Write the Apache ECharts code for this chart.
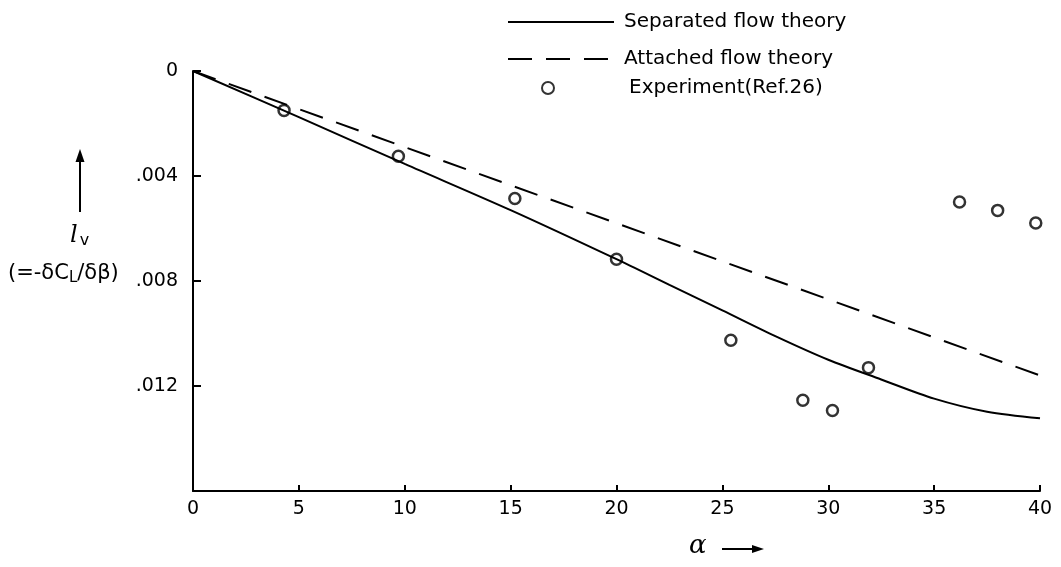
<!DOCTYPE html>
<html>
<head>
<meta charset="utf-8">
<script src="https://cdn.jsdelivr.net/npm/echarts@6/dist/echarts.min.js"></script>
<style>
html,body{margin:0;padding:0;background:#fff;}
#c{width:1061px;height:567px;}
</style>
</head>
<body>
<div id="c"></div>
<script>
// ---- data ----
const xTicks = [0, 5, 10, 15, 20, 25, 30, 35, 40];
const yTickLabels = { 0: '0', 0.004: '.004', 0.008: '.008', 0.012: '.012' };

const sepX = [0, 5, 10, 15, 20, 22.5, 25, 27.5, 30, 32.5, 35, 37.5, 40];
const sepY = [0, 0.00176, 0.00354, 0.00530, 0.00717, 0.00815, 0.00912, 0.01010, 0.01100, 0.01175, 0.01248, 0.01298, 0.01323];

const attX = [0, 10, 20, 30, 40];
const attY = [0, 0.0029, 0.0058, 0.0087, 0.0116];

const expX = [4.3, 9.7, 15.2, 20.0, 25.4, 28.8, 30.2, 31.9, 36.2, 38.0, 39.8];
const expY = [0.0015, 0.00325, 0.00486, 0.00717, 0.01026, 0.01254, 0.01293, 0.0113, 0.00499, 0.00531, 0.00579];

const names = ['Separated flow theory', 'Attached flow theory', 'Experiment(Ref.26)'];

const zip = (a, b) => a.map((v, i) => [v, b[i]]);
const FONT = 'DejaVu Sans';

const chart = echarts.init(document.getElementById('c'), null, { renderer: 'canvas' });
chart.setOption({
  animation: false,
  backgroundColor: '#fff',
  grid: { left: 193, right: 21, top: 71, bottom: 76, containLabel: false },
  xAxis: {
    type: 'value', min: 0, max: 40, interval: 5, position: 'bottom',
    axisLine: { show: true, onZero: false, lineStyle: { color: '#000', width: 2 } },
    axisTick: { show: true, inside: true, length: 6, lineStyle: { color: '#000', width: 2 } },
    axisLabel: { color: '#000', fontFamily: FONT, fontSize: 19, margin: 9 },
    splitLine: { show: false }
  },
  yAxis: {
    type: 'value', min: 0, max: 0.016, interval: 0.004, inverse: true,
    axisLine: { show: true, onZero: false, lineStyle: { color: '#000', width: 2 } },
    axisTick: { show: true, inside: true, length: 8, lineStyle: { color: '#000', width: 2 } },
    axisLabel: {
      color: '#000', fontFamily: FONT, fontSize: 19, margin: 15,
      formatter: v => { const k = Object.keys(yTickLabels).find(t => Math.abs(+t - v) < 1e-9); return k !== undefined ? yTickLabels[k] : ''; }
    },
    splitLine: { show: false }
  },
  legend: [
    { data: [names[0]], left: 507, top: 12, padding: 0, orient: 'vertical', itemWidth: 106, itemHeight: 16,
      itemStyle: { opacity: 0 },
      textStyle: { fontFamily: FONT, fontSize: 20, color: '#000', padding: [0, 0, 0, 5] } },
    { data: [names[1]], left: 507, top: 49, padding: 0, orient: 'vertical', itemWidth: 106, itemHeight: 16,
      itemStyle: { opacity: 0 },
      textStyle: { fontFamily: FONT, fontSize: 20, color: '#000', padding: [0, 0, 0, 5] } },
    { data: [names[2]], left: 541, top: 78, padding: 0, orient: 'vertical', itemWidth: 12, itemHeight: 12,
      textStyle: { fontFamily: FONT, fontSize: 20, color: '#000', padding: [0, 0, 0, 70] } }
  ],
  series: [
    { name: names[0], type: 'line', data: zip(sepX, sepY), smooth: 0.3, symbol: 'none',
      lineStyle: { color: '#000', width: 2 }, itemStyle: { color: '#000' } },
    { name: names[1], type: 'line', data: zip(attX, attY), symbol: 'none',
      lineStyle: { color: '#000', width: 2, type: [24, 14] }, itemStyle: { color: '#000' } },
    { name: names[2], type: 'scatter', data: zip(expX, expY), symbol: 'circle', symbolSize: 11,
      itemStyle: { color: '#fff', borderColor: '#000', borderWidth: 2.5 } }
  ],
  graphic: [
    { type: 'line', shape: { x1: 80, y1: 212, x2: 80, y2: 158 }, style: { stroke: '#000', lineWidth: 2 } },
    { type: 'polygon', shape: { points: [[75.5, 162], [84.5, 162], [80, 149]] }, style: { fill: '#000' } },
    { type: 'text', left: 70, top: 224,
      style: { rich: { a: { fontFamily: 'DejaVu Serif', fontStyle: 'italic', fontSize: 24, fill: '#000' }, s: { fontFamily: FONT, fontSize: 16, fill: '#000', padding: [10, 0, 0, 2] } },
        text: '{a|l}{s|v}' } },
    { type: 'text', left: 8, top: 263,
      style: { rich: { a: { fontFamily: FONT, fontSize: 21, fill: '#000' }, s: { fontFamily: FONT, fontSize: 15, fill: '#000', padding: [10, 0, 0, 0] } },
        text: '{a|(=-δC}{s|L}{a|/δβ)}' } },
    { type: 'text', left: 689, top: 533, style: { text: 'α', fontFamily: 'DejaVu Serif', fontSize: 26, fontStyle: 'italic', fill: '#000' } },
    { type: 'line', shape: { x1: 722, y1: 549, x2: 756, y2: 549 }, style: { stroke: '#000', lineWidth: 2 } },
    { type: 'polygon', shape: { points: [[752, 545], [764, 549], [752, 553]] }, style: { fill: '#000' } }
  ]
});
</script>
</body>
</html>
